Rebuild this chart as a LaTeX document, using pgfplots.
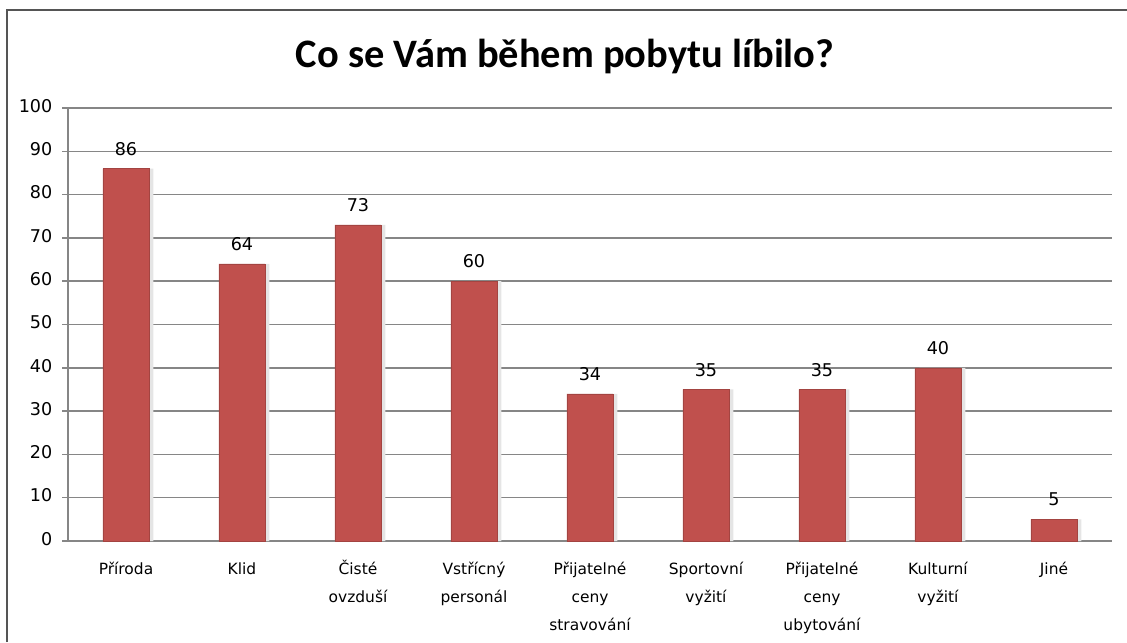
\documentclass[border=0pt]{standalone}
\usepackage{fontspec}
\setmainfont{DejaVu Sans}
\newfontfamily\titlefont{Carlito}
\usepackage{pgfplots}
\pgfplotsset{compat=1.18}
\definecolor{barred}{HTML}{C0504D}
\definecolor{gridgray}{HTML}{868686}
\definecolor{framegray}{HTML}{555555}

\begin{document}
\begin{tikzpicture}
  % page size = reference pixels (1px = 0.02cm)
  \path[use as bounding box] (0,0) rectangle (22.54,12.84);
  \draw[framegray, line width=1.2pt] (0.14,0) -- (0.14,12.64) -- (22.54,12.64);
  \node[font=\titlefont\bfseries\fontsize{23}{27}\selectfont] at (11.3,11.7) {Co se Vám během pobytu líbilo?};

  \begin{axis}[
      at={(1.36cm,2.02cm)}, anchor=south west,
      scale only axis,
      width=20.88cm, height=8.66cm,
      ymin=0, ymax=100,
      ytick={0,10,...,100},
      xmin=-0.5, xmax=8.5,
      xtick={0,...,8},
      xticklabels={Příroda, Klid, Čisté\\ovzduší, Vstřícný\\personál,
        Přijatelné\\ceny\\stravování, Sportovní\\vyžití,
        Přijatelné\\ceny\\ubytování, Kulturní\\vyžití, Jiné},
      typeset ticklabels with strut,
      x tick label style={align=center, font=\fontsize{8.8}{15.9}\selectfont, yshift=-1pt},
      y tick label style={font=\fontsize{10}{12}\selectfont, xshift=-2pt},
      /pgf/number format/assume math mode=true,
      major x tick style={draw=none},
      extra x ticks={-0.5,0.5,...,8.5},
      extra x tick labels={},
      extra x tick style={grid=none, major tick length=3.4pt, tick style={draw=gridgray, line width=0.8pt}},
      tick align=outside,
      major tick length=3.4pt,
      xtick pos=bottom, ytick pos=left,
      axis x line*=bottom, axis y line*=left,
      axis line style={draw=gridgray, line width=0.8pt, -},
      ytick style={draw=gridgray, line width=0.8pt},
      ymajorgrids,
      grid style={draw=gridgray, line width=0.8pt},
      ybar, bar width=0.92cm,
      nodes near coords,
      every node near coord/.append style={font=\fontsize{10}{12}\selectfont, yshift=4pt},
    ]
    \addplot[draw=none, fill=gray!20, bar shift=2.5pt, nodes near coords={}] coordinates {
      (0,86) (1,64) (2,73) (3,60) (4,34) (5,35) (6,35) (7,40) (8,5)};
    \addplot[draw=barred!85!black, line width=0.3pt, fill=barred, bar shift=0pt] coordinates {
      (0,86) (1,64) (2,73) (3,60) (4,34) (5,35) (6,35) (7,40) (8,5)};
  \end{axis}
\end{tikzpicture}
\end{document}
